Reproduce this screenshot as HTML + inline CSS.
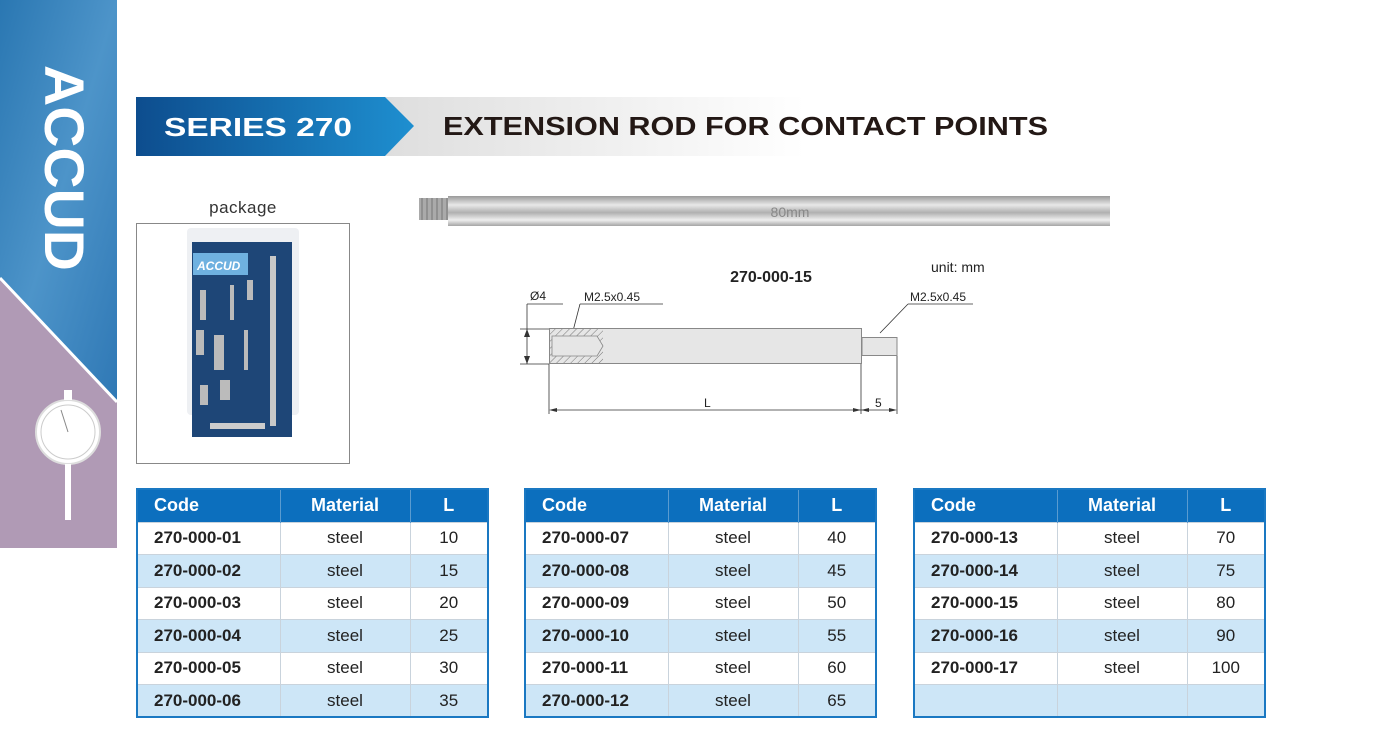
<!DOCTYPE html>
<html><head><meta charset="utf-8">
<style>
*{margin:0;padding:0;box-sizing:border-box}
body{width:1400px;height:745px;background:#fff;position:relative;overflow:hidden;font-family:"Liberation Sans",Arial,sans-serif}
.abs{position:absolute}
table{position:absolute;border-collapse:collapse;border:2px solid #1a78c2;top:488px;width:351px;table-layout:fixed}
td,th{height:32.5px;border-left:1px solid #c9d3dc;border-top:1px solid #c9d3dc;font-size:17px;text-align:center;color:#222}
th{background:#0c6fbe;color:#fff;font-weight:bold;font-size:18px;height:33px;border-top:none;border-left:1px solid #5a9bd0}
th:first-child{text-align:left;padding-left:16px}
td:first-child{text-align:left;padding-left:16px;font-weight:bold;color:#222}
tr:nth-child(odd) td{background:#cde6f7}
td:first-child,th:first-child{border-left:none}
</style></head><body>
<svg class="abs" style="left:0;top:0" width="1400" height="745">
<defs>
<linearGradient id="sb" x1="0" y1="0" x2="1" y2="1"><stop offset="0" stop-color="#2a77b2"/><stop offset="0.5" stop-color="#4d94c9"/><stop offset="1" stop-color="#2f78b5"/></linearGradient>
<linearGradient id="bn" x1="0" y1="0" x2="1" y2="0"><stop offset="0" stop-color="#0d4d8e"/><stop offset="1" stop-color="#1e8fd0"/></linearGradient>
<linearGradient id="gr" x1="0" y1="0" x2="1" y2="0"><stop offset="0" stop-color="#dedede"/><stop offset="1" stop-color="#fff"/></linearGradient>
<linearGradient id="rod" x1="0" y1="0" x2="0" y2="1"><stop offset="0" stop-color="#9a9a9a"/><stop offset="0.3" stop-color="#e8e8e8"/><stop offset="0.55" stop-color="#b0b0b0"/><stop offset="0.8" stop-color="#eeeeee"/><stop offset="1" stop-color="#a5a5a5"/></linearGradient>
<pattern id="hat" width="5" height="5" patternUnits="userSpaceOnUse" patternTransform="rotate(45)"><line x1="0" y1="0" x2="0" y2="5" stroke="#777" stroke-width="1"/></pattern>
</defs>
<rect x="0" y="0" width="117" height="548" fill="#b09ab5"/>
<polygon points="0,0 117,0 117,402 0,278" fill="url(#sb)"/>
<line x1="0" y1="278" x2="117" y2="402" stroke="#fff" stroke-width="3"/>
<text transform="translate(45,65) rotate(90)" font-size="56" font-weight="bold" fill="#fff" font-family="Liberation Sans" textLength="206" lengthAdjust="spacingAndGlyphs">ACCUD</text>
<circle cx="68" cy="432" r="32" fill="#fff" stroke="#ddd" stroke-width="2"/>
<circle cx="68" cy="432" r="27" fill="none" stroke="#ccc" stroke-width="1"/>
<line x1="68" y1="432" x2="61" y2="410" stroke="#888" stroke-width="1"/>
<rect x="64" y="390" width="8" height="10" fill="#fff"/>
<rect x="65" y="464" width="6" height="56" fill="#fff"/>
<rect x="385" y="97" width="420" height="59" fill="url(#gr)"/>
<polygon points="136,97 385,97 414,126 385,156 136,156" fill="url(#bn)"/>
<text x="164" y="136" font-size="26" font-weight="bold" fill="#fff" textLength="188" lengthAdjust="spacingAndGlyphs">SERIES 270</text>
<text x="443" y="135" font-size="26" font-weight="bold" fill="#231815" textLength="605" lengthAdjust="spacingAndGlyphs">EXTENSION ROD FOR CONTACT POINTS</text>
<text x="243" y="213" font-size="17" fill="#333" text-anchor="middle" letter-spacing="0.5">package</text>
<rect x="136.5" y="223.5" width="213" height="240" fill="#fff" stroke="#888"/>
<rect x="187" y="228" width="112" height="187" rx="4" fill="#eef0f3"/>
<rect x="192" y="242" width="100" height="195" fill="#1e4677"/>
<rect x="193" y="253" width="55" height="22" fill="#6fb1e0"/>
<text x="197" y="270" font-size="12" font-weight="bold" font-style="italic" fill="#fff">ACCUD</text>
<rect x="270" y="256" width="6" height="170" fill="#c8c8c8"/>
<rect x="200" y="290" width="6" height="30" fill="#bbb"/><rect x="230" y="285" width="4" height="35" fill="#bbb"/><rect x="247" y="280" width="6" height="20" fill="#bbb"/>
<rect x="196" y="330" width="8" height="25" fill="#bbb"/><rect x="214" y="335" width="10" height="35" fill="#bbb"/><rect x="244" y="330" width="4" height="40" fill="#bbb"/>
<rect x="200" y="385" width="8" height="20" fill="#bbb"/><rect x="220" y="380" width="10" height="20" fill="#bbb"/>
<rect x="210" y="423" width="55" height="6" fill="#ccc"/>
<rect x="419" y="198" width="46" height="22" fill="#aaa"/>
<g stroke="#777" stroke-width="1">
<line x1="422" y1="198" x2="422" y2="220"/><line x1="427" y1="198" x2="427" y2="220"/><line x1="432" y1="198" x2="432" y2="220"/><line x1="437" y1="198" x2="437" y2="220"/><line x1="442" y1="198" x2="442" y2="220"/><line x1="447" y1="198" x2="447" y2="220"/><line x1="452" y1="198" x2="452" y2="220"/><line x1="457" y1="198" x2="457" y2="220"/></g>
<rect x="448" y="196" width="662" height="30" fill="url(#rod)"/>
<text x="790" y="217" font-size="14" fill="#888" text-anchor="middle">80mm</text>
<text x="771" y="282" font-size="16" font-weight="bold" fill="#222" text-anchor="middle">270-000-15</text>
<text x="931" y="272" font-size="14" fill="#222">unit: mm</text>
<g font-size="12" fill="#222">
<text x="530" y="300">Ø4</text>
<text x="584" y="301">M2.5x0.45</text>
<text x="910" y="301">M2.5x0.45</text>
<text x="704" y="407">L</text>
<text x="875" y="407">5</text>
</g>
<g stroke="#333" stroke-width="0.8" fill="none">
<line x1="527" y1="304" x2="563" y2="304"/>
<line x1="580" y1="304" x2="663" y2="304"/>
<line x1="908" y1="304" x2="973" y2="304"/>
<line x1="527" y1="304" x2="527" y2="364"/>
<line x1="520" y1="329" x2="549" y2="329"/>
<line x1="520" y1="364" x2="549" y2="364"/>
<line x1="580" y1="304" x2="573" y2="331"/>
<line x1="908" y1="304" x2="880" y2="333"/>
<line x1="549" y1="364" x2="549" y2="414"/>
<line x1="861" y1="356" x2="861" y2="414"/>
<line x1="897" y1="356" x2="897" y2="414"/>
<line x1="551" y1="410" x2="895" y2="410"/>
</g>
<g fill="#333">
<polygon points="527,329 524,337 530,337"/><polygon points="527,364 524,356 530,356"/>
<polygon points="549,410 557,408 557,412"/><polygon points="861,410 853,408 853,412"/>
<polygon points="861,410 869,408 869,412"/><polygon points="897,410 889,408 889,412"/>
</g>
<rect x="549.5" y="328.5" width="312" height="35" fill="#e6e6e6" stroke="#888"/>
<rect x="550" y="329" width="53" height="34" fill="url(#hat)"/>
<polygon points="552,336 597,336 603,346 597,356 552,356" fill="#e6e6e6" stroke="#888" stroke-width="0.8"/>
<rect x="862" y="337.5" width="35" height="18" fill="#e6e6e6" stroke="#888"/>
</svg>

<table style="left:136px">
<colgroup><col style="width:143px"><col style="width:130px"><col style="width:78px"></colgroup>
<tr><th>Code</th><th>Material</th><th>L</th></tr>
<tr><td>270-000-01</td><td>steel</td><td>10</td></tr>
<tr><td>270-000-02</td><td>steel</td><td>15</td></tr>
<tr><td>270-000-03</td><td>steel</td><td>20</td></tr>
<tr><td>270-000-04</td><td>steel</td><td>25</td></tr>
<tr><td>270-000-05</td><td>steel</td><td>30</td></tr>
<tr><td>270-000-06</td><td>steel</td><td>35</td></tr>
</table>
<table style="left:524px">
<colgroup><col style="width:143px"><col style="width:130px"><col style="width:78px"></colgroup>
<tr><th>Code</th><th>Material</th><th>L</th></tr>
<tr><td>270-000-07</td><td>steel</td><td>40</td></tr>
<tr><td>270-000-08</td><td>steel</td><td>45</td></tr>
<tr><td>270-000-09</td><td>steel</td><td>50</td></tr>
<tr><td>270-000-10</td><td>steel</td><td>55</td></tr>
<tr><td>270-000-11</td><td>steel</td><td>60</td></tr>
<tr><td>270-000-12</td><td>steel</td><td>65</td></tr>
</table>
<table style="left:913px">
<colgroup><col style="width:143px"><col style="width:130px"><col style="width:78px"></colgroup>
<tr><th>Code</th><th>Material</th><th>L</th></tr>
<tr><td>270-000-13</td><td>steel</td><td>70</td></tr>
<tr><td>270-000-14</td><td>steel</td><td>75</td></tr>
<tr><td>270-000-15</td><td>steel</td><td>80</td></tr>
<tr><td>270-000-16</td><td>steel</td><td>90</td></tr>
<tr><td>270-000-17</td><td>steel</td><td>100</td></tr>
<tr><td></td><td></td><td></td></tr>
</table>
</body></html>
